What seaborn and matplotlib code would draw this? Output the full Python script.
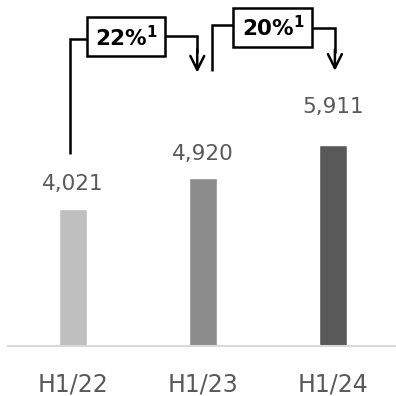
import seaborn as sns
import matplotlib.pyplot as plt
from matplotlib.patches import Rectangle
import pandas as pd

periods = ['H1/22', 'H1/23', 'H1/24']
values = [4021, 4920, 5911]
bar_colors = ['#bfbfbf', '#8c8c8c', '#595959']
growth_labels = [r'22%$^\mathbf{1}$', r'20%$^\mathbf{1}$']

sns.set_style('white')
plt.rcParams['font.family'] = ['DejaVu Sans']

df = pd.DataFrame({'period': periods, 'value': values})

fig = plt.figure(figsize=(3.96, 3.96), dpi=100)
ax = fig.add_axes([8 / 396, 50 / 396, 388 / 396, 346 / 396])

sns.barplot(data=df, x='period', y='value', hue='period', palette=bar_colors,
            width=0.215, legend=False, ax=ax)

ax.set_xlim(-0.5, 2.485)
ax.set_ylim(0, 10150)
ax.set_xlabel('')
ax.set_ylabel('')
ax.set_yticks([])
for s in ['top', 'left', 'right']:
    ax.spines[s].set_visible(False)
ax.spines['bottom'].set_color('#d9d9d9')
ax.spines['bottom'].set_linewidth(1.5)
ax.tick_params(axis='x', length=0, pad=19, labelsize=17, labelcolor='#595959')

# value labels
lift = [13.5, 13.5, 23]
for i, v in enumerate(values):
    ax.annotate(f'{v:,}', (i, v), xytext=(0, lift[i]), textcoords='offset points',
                ha='center', va='baseline', fontsize=15.5, color='#595959')

# growth brackets
k = dict(color='black', lw=1.8, solid_capstyle='butt', solid_joinstyle='miter')
ah = dict(arrowstyle='->', color='black', lw=1.8, mutation_scale=25, shrinkA=0, shrinkB=0)

# first bracket: H1/22 -> H1/23
ax.plot([-0.023, -0.023, 0.108], [5635, 9011, 9011], **k)
ax.add_patch(Rectangle((0.108, 8512), 0.6, 1145, fill=False, ec='black', lw=1.8))
ax.text(0.41, 9060, growth_labels[0], ha='center', va='center', fontsize=15.5,
        fontweight='bold', color='black')
ax.plot([0.708, 0.956, 0.956], [9099, 9099, 8600], **k)
ax.annotate('', xy=(0.956, 8020), xytext=(0.956, 8700), arrowprops=ah)

# second bracket: H1/23 -> H1/24
ax.plot([1.07, 1.07, 1.231], [8072, 9422, 9422], **k)
ax.add_patch(Rectangle((1.231, 8776), 0.607, 1145, fill=False, ec='black', lw=1.8))
ax.text(1.545, 9330, growth_labels[1], ha='center', va='center', fontsize=15.5,
        fontweight='bold', color='black')
ax.plot([1.838, 2.015, 2.015], [9335, 9335, 8600], **k)
ax.annotate('', xy=(2.015, 8072), xytext=(2.015, 8700), arrowprops=ah)

fig.savefig('out.png', dpi=100)
